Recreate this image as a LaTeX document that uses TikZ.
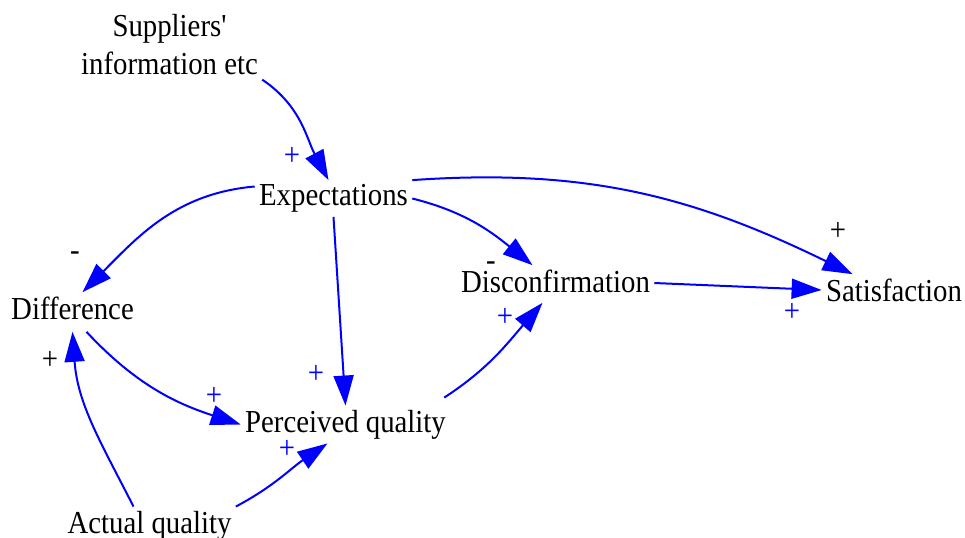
\documentclass[tikz,border=0pt]{standalone}
\usepackage{fontspec}
\newfontfamily\plainserif{Liberation Serif}[FakeStretch=0.9]
\usetikzlibrary{arrows.meta}
\definecolor{linkblue}{RGB}{0,0,255}
\begin{document}
\begin{tikzpicture}[x=0.5pt,y=0.5pt,
  font=\plainserif\fontsize{16pt}{19pt}\selectfont,
  var/.style={inner sep=2pt, align=center},
  link/.style={draw=linkblue, line width=1pt, -{Triangle[length=15pt,width=10pt]}, fill=none},
  polblue/.style={inner sep=0pt, text=linkblue},
  polblack/.style={inner sep=0pt, text=black}]
\useasboundingbox (0,0) rectangle (965,-537);

\node (sup) [var] at (169.5,-45) {Suppliers'\\information etc};
\node (exp) [var] at (333.5,-198.5) {Expectations};
\node (dif) [var] at (72.5,-308) {Difference};
\node (dis) [var] at (555.5,-281) {Disconfirmation};
\node (sat) [var] at (894,-290) {Satisfaction};
\node (per) [var] at (345.5,-424.5) {Perceived quality};
\node (act) [var] at (149.5,-525.5) {Actual quality};

\draw[link] (sup.south east) to[out=-34,in=118] ([xshift=-2.5pt]exp.north);
\draw[link] ([yshift=6pt]exp.west) to[out=185,in=45] ([xshift=5pt]dif.north);
\draw[link] (exp.south) -- (per.north);
\draw[link] (exp.east) to[out=-14,in=141] ([xshift=-11.5pt]dis.north);
\draw[link] (exp.north east) to[out=4,in=154] ([xshift=15.5pt]sat.north west);
\draw[link] ([yshift=-1pt]dis.east) -- (sat.west);
\draw[link] ([xshift=7pt,yshift=-4pt]dif.south) to[out=-47,in=162] (per.west);
\draw[link] ([xshift=-8pt]act.north) to[out=117,in=-86] ([yshift=-4pt]dif.south);
\draw[link] (act.north east) to[out=28,in=214] ([xshift=-9pt]per.south);
\draw[link] ([xshift=-3pt,yshift=4pt]per.north east) to[out=33,in=229] ([xshift=-6.5pt,yshift=-3pt]dis.south);

% polarity signs
\node (p1) [polblue] at (292,-156) {+};
\node (p2) [polblack] at (75,-256) {-};
\node (p3) [polblue] at (316,-374) {+};
\node (p4) [polblack] at (491,-266) {-};
\node (p5) [polblack] at (838,-231) {+};
\node (p6) [polblue] at (792,-312) {+};
\node (p7) [polblue] at (214,-396) {+};
\node (p8) [polblack] at (50,-360) {+};
\node (p9) [polblue] at (287,-449) {+};
\node (p10) [polblue] at (505,-317) {+};
\end{tikzpicture}
\end{document}
